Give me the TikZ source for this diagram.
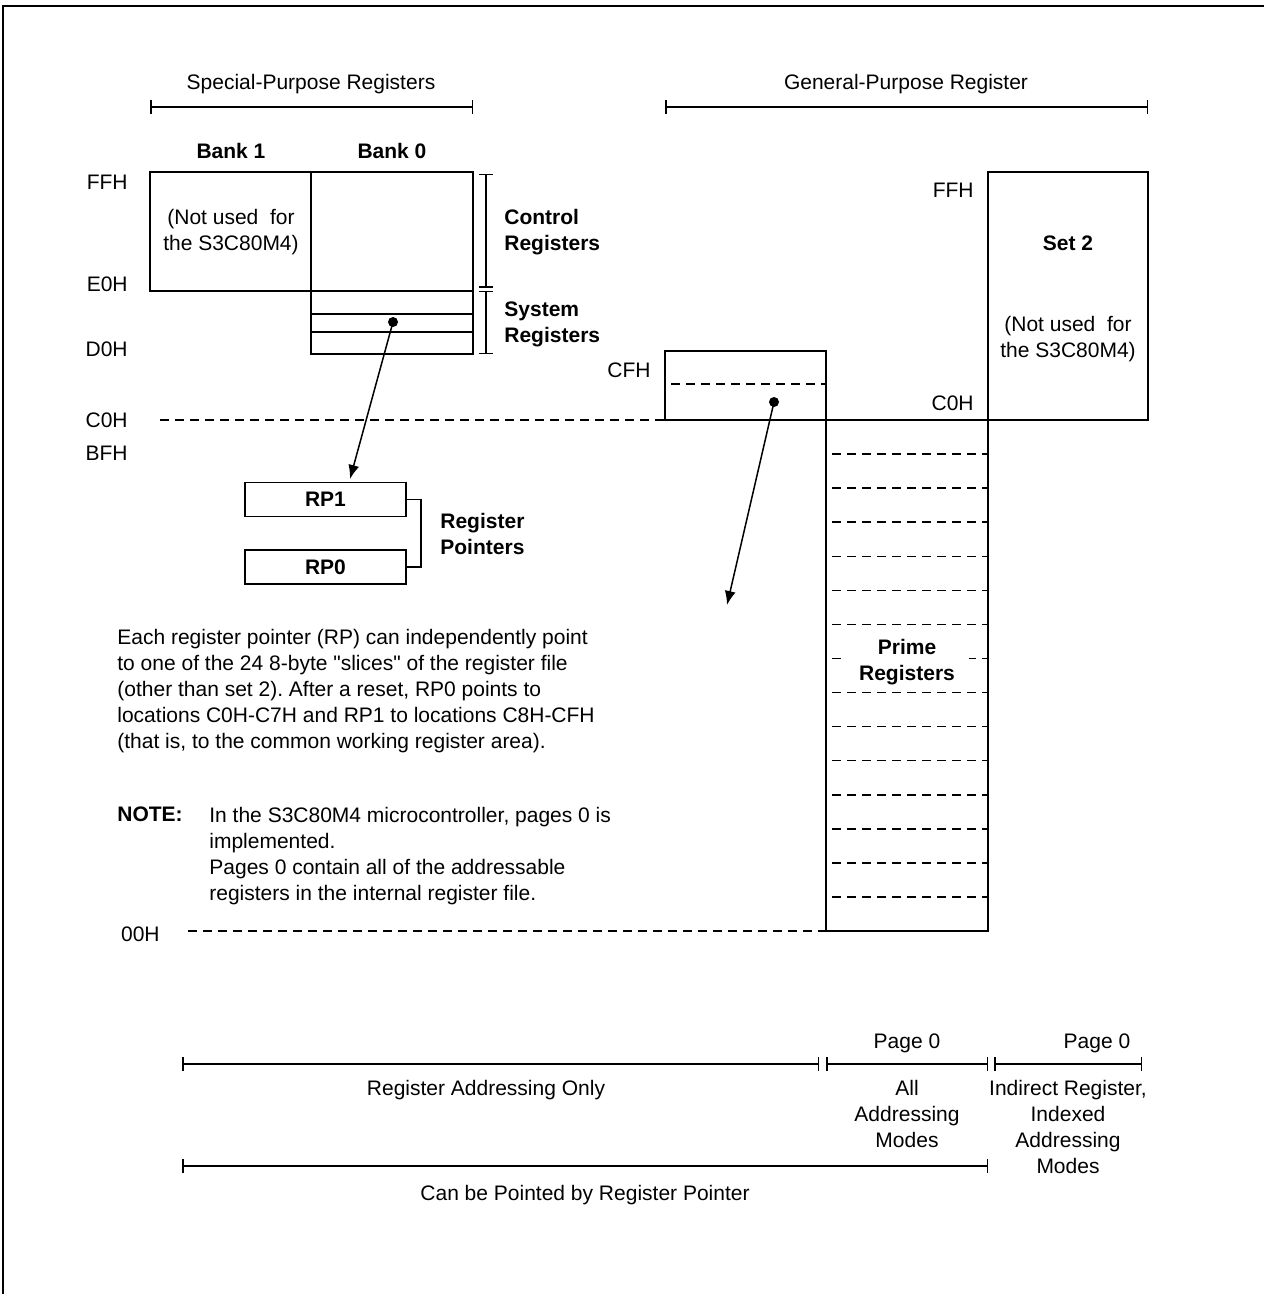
\documentclass[tikz,border=0pt]{standalone}
\usepackage{fontspec}
\setmainfont{Liberation Sans}
\usetikzlibrary{arrows.meta}
\frenchspacing
\begin{document}
\begin{tikzpicture}[x=0.5pt,y=-0.5pt,
  txt/.style={inner sep=0pt, font=\fontsize{10.5}{13}\selectfont},
  btxt/.style={inner sep=0pt, font=\fontsize{10.5}{13}\selectfont\bfseries},
  ln/.style={line width=0.75pt},
  dsh/.style={line width=0.75pt, dash pattern=on 4.5pt off 3pt},
  dimline/.style={line width=0.75pt, {Bar[width=7pt,line width=0.75pt]}-{Bar[width=7pt,line width=0.75pt]}},
  rpbox/.style={draw, line width=0.75pt, minimum width=80.5pt, minimum height=17pt, inner sep=0pt, font=\fontsize{10.5}{13}\selectfont\bfseries},
  ptr/.style={line width=0.75pt, -{Latex[length=7pt,width=5.5pt]}},
  dotn/.style={circle, fill=black, inner sep=0pt, minimum size=5pt}
]
\useasboundingbox (0,0) rectangle (1264,1294);
% frame
\draw[line width=1.2pt] (3,1294) -- (3,6) -- (1264,6);

% titles and top brackets
\node[txt, anchor=base] (sptitle) at (311,90) {Special-Purpose Registers};
\node[txt, anchor=base] (gptitle) at (906,90) {General-Purpose Register};
\draw[dimline] (150,107) -- (473,107);
\draw[dimline] (665,107) -- (1148,107);

% banks
\node[btxt, anchor=base] (bank1) at (231,159) {Bank 1};
\node[btxt, anchor=base] (bank0) at (392,159) {Bank 0};
\draw[ln] (150,172) rectangle (311,291);
\draw[ln] (311,172) rectangle (473,354);
\draw[ln] (311,291) -- (473,291);
\draw[ln] (311,314) -- (473,314);
\draw[ln] (311,332) -- (473,332);
\node[txt, align=center, anchor=north] (nu1) at (231,208.5) {(Not used~ for\\the S3C80M4)};

% hex labels left
\node[txt, anchor=base east] (ffh) at (128,190) {FFH};
\node[txt, anchor=base east] (e0h) at (128,291.5) {E0H};
\node[txt, anchor=base east] (d0h) at (128,356.5) {D0H};
\node[txt, anchor=base east] (c0h) at (128,427.5) {C0H};
\node[txt, anchor=base east] (bfh) at (128,460.5) {BFH};
\node[txt, anchor=base east] (ooh) at (160,941.5) {00H};

% control/system brackets
\draw[dimline] (486,174) -- (486,288);
\draw[dimline] (486,291) -- (486,354);
\node[btxt, align=left, anchor=north west] (ctrl) at (504,208.5) {Control\\Registers};
\node[btxt, align=left, anchor=north west] (sys) at (504,301.5) {System\\Registers};

% dashed address lines
\draw[dsh] (160,420) -- (665,420);
\draw[dsh] (188,931) -- (826,931);

% general purpose
\draw[ln] (665,351) rectangle (826,420);
\draw[dsh] (671,384) -- (826,384);
\draw[ln] (988,172) rectangle (1148,420);
\draw[ln] (826,420) rectangle (988,931);
\node[txt, anchor=base east] (cfh) at (651,377.5) {CFH};
\node[txt, anchor=base east] (ffh2) at (974,197.5) {FFH};
\node[txt, anchor=base east] (c0h2) at (974,410.5) {C0H};
\node[btxt, anchor=base] (set2) at (1068,250.5) {Set 2};
\node[txt, align=center, anchor=north] (nu2) at (1068,315.5) {(Not used~ for\\the S3C80M4)};

% prime register slices
\foreach \k in {1,...,14}{
  \draw[dsh] (832,{420+34.07*\k}) -- (988,{420+34.07*\k});
}
\node[btxt, align=center, anchor=north, fill=white, inner xsep=7pt, inner ysep=1pt] (prime) at (907,636.5) {Prime\\Registers};

% register pointers
\node[dotn] (dot1) at (393,322) {};
\node[dotn] (dot2) at (774,402) {};
\node[rpbox] (rp1) at (325.5,499.5) {RP1};
\node[rpbox] (rp0) at (325.5,567) {RP0};
\coordinate (tip1) at (350,479);
\coordinate (tip2) at (727,605);
\draw[ptr] (dot1.center) -- (tip1);
\draw[ptr] (dot2.center) -- (tip2);
\draw[ln] (rp1.east) -- ++(14,0) |- (rp0.east);
\node[btxt, align=left, anchor=north west] (rpl) at (440,512.5) {Register\\Pointers};

% paragraph
\node[txt, align=left, anchor=north west] (para) at (117,629) {Each register pointer (RP) can independently point\\to one of the 24 8-byte \textquotedbl slices\textquotedbl{} of the register file\\(other than set 2). After a reset, RP0 points to\\locations C0H-C7H and RP1 to locations C8H-CFH\\(that is, to the common working register area).};
\node[btxt, anchor=north west] (note) at (117,806.5) {NOTE:};
\node[txt, align=left, anchor=north west] (notetxt) at (209,806.5) {In the S3C80M4 microcontroller, pages 0 is\\implemented.\\Pages 0 contain all of the addressable\\registers in the internal register file.};

% bottom
\node[txt, anchor=base] (pg1) at (907,1048.5) {Page 0};
\node[txt, anchor=base] (pg2) at (1097,1048.5) {Page 0};
\draw[dimline] (182,1064) -- (819,1064);
\draw[dimline] (826,1064) -- (988,1064);
\draw[dimline] (994,1064) -- (1142,1064);
\node[txt, anchor=north] (rao) at (486,1079.5) {Register Addressing Only};
\node[txt, align=center, anchor=north] (allm) at (907,1079.5) {All\\Addressing\\Modes};
\node[txt, align=center, anchor=north] (indm) at (1068,1079.5) {Indirect Register,\\Indexed\\Addressing\\Modes};
\draw[dimline] (182,1166) -- (988,1166);
\node[txt, anchor=north] (cbp) at (585,1184.5) {Can be Pointed by Register Pointer};
\end{tikzpicture}
\end{document}
